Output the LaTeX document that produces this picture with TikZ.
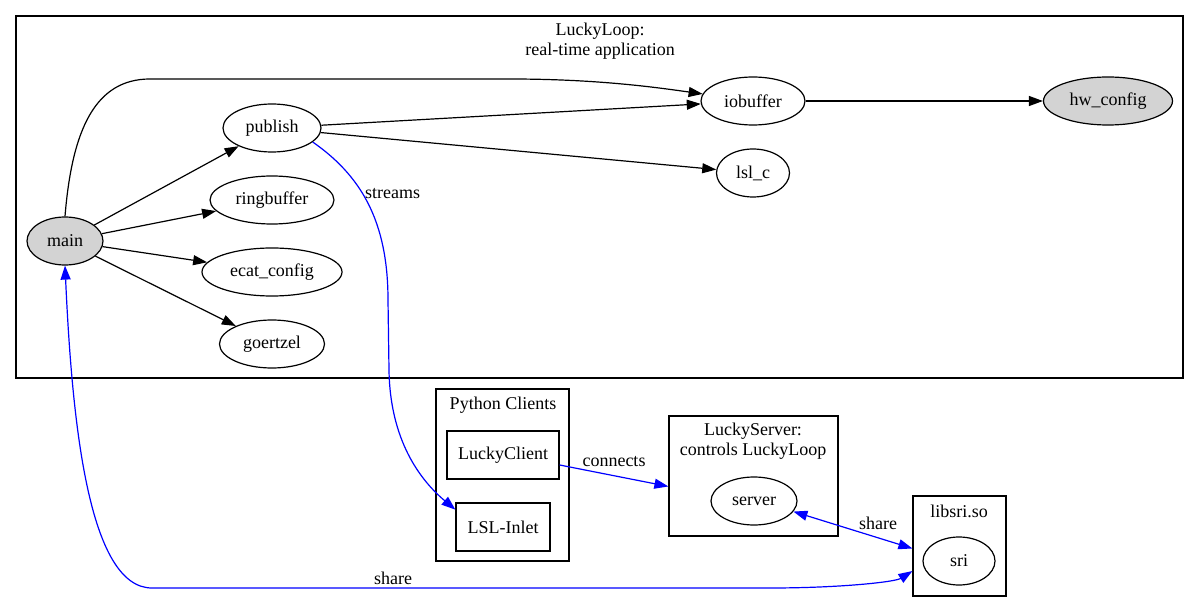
\documentclass[tikz,border=0pt]{standalone}
\usepackage{fontspec}
\setmainfont{Liberation Serif}
\usetikzlibrary{shapes.geometric,arrows.meta}
\definecolor{rootfill}{HTML}{D3D3D3}
\begin{document}
\begin{tikzpicture}[x=1pt,y=-1pt,
  every node/.style={font=\fontsize{18}{20}\selectfont},
  cluster/.style={draw, rectangle, line width=1.2pt, inner sep=0pt},
  proc/.style={draw, ellipse, line width=1.2pt, minimum height=48pt, inner sep=0pt},
  root/.style={proc, fill=rootfill},
  module/.style={draw, rectangle, line width=1.2pt, minimum height=48pt, inner sep=0pt},
  lbl/.style={inner sep=0pt, text=black},
  edge/.style={line width=1.2pt, -{Triangle[length=14pt,width=10pt]}},
  link/.style={edge, blue},
  share/.style={line width=1.2pt, blue, {Triangle[length=14pt,width=10pt]}-{Triangle[length=14pt,width=10pt]}}
]
\useasboundingbox (0,0) rectangle (1199,612);

% clusters
\node[cluster, minimum width=1167pt, minimum height=362pt] (loopcl) at (599.5,197) {};
\node[lbl, align=center] (looptitle) at (600,41) {LuckyLoop:\\real-time application};
\node[cluster, minimum width=133pt, minimum height=172pt] (pycl) at (502.5,475) {};
\node[lbl] (pytitle) at (503,405) {Python Clients};
\node[cluster, minimum width=169pt, minimum height=120pt] (srvcl) at (753.5,476) {};
\node[lbl, align=center] (srvtitle) at (753,441) {LuckyServer:\\controls LuckyLoop};
\node[cluster, minimum width=93pt, minimum height=100pt] (libcl) at (959.5,546) {};
\node[lbl] (libtitle) at (959,511) {libsri.so};

% real-time application
\node[root, minimum width=76pt] (main) at (65,241) {main};
\node[proc, minimum width=98pt] (publish) at (272,128) {publish};
\node[proc, minimum width=124pt] (ringbuffer) at (272,200) {ringbuffer};
\node[proc, minimum width=140pt] (ecat) at (272,272) {ecat\_config};
\node[proc, minimum width=105pt] (goertzel) at (272,344) {goertzel};
\node[proc, minimum width=104pt] (iobuffer) at (753,101) {iobuffer};
\node[proc, minimum width=73pt] (lslc) at (753,173) {lsl\_c};
\node[root, minimum width=129pt] (hwconfig) at (1108,101) {hw\_config};

% clients, server, library
\node[module, minimum width=112pt] (luckyclient) at (503,455) {LuckyClient};
\node[module, minimum width=94pt] (lslinlet) at (503,527) {LSL-Inlet};
\node[proc, minimum width=86pt] (server) at (754,501) {server};
\node[proc, minimum width=72pt] (sri) at (959,561) {sri};

% call graph
\draw[edge] (main) -- (publish);
\draw[edge] (main) -- (ringbuffer);
\draw[edge] (main) -- (ecat);
\draw[edge] (main) -- (goertzel);
\draw[edge] (main.north) .. controls (72,130) and (95,79) .. (150,79)
  -- (510,79) .. controls (600,79) and (660,88) .. (iobuffer.172);
\draw[edge] (publish) -- (iobuffer);
\draw[edge] (publish) -- (lslc);
\draw[edge] (iobuffer) -- (hwconfig);

% data streams and connections
\draw[link] (publish.-19) .. controls (360,175) and (388,220) .. (388,300)
  -- (389,370) .. controls (390,440) and (420,480) .. (lslinlet.160);
\node[lbl, anchor=west] (streamslbl) at (365,194) {streams};
\draw[link] (luckyclient.-10) -- node[lbl, midway, yshift=14.5pt] {connects} (srvcl.-173);
\draw[share] (server.-15) -- (libcl.-177.5);
\node[lbl] (sharelbl) at (878,523) {share};
\draw[share] (main.south) .. controls (72,420) and (88,588) .. (152,588)
  -- node[lbl, pos=0.39, yshift=10pt] {share} (770,588)
  .. controls (840,588) and (895,582) .. (libcl.-152);
\end{tikzpicture}
\end{document}
